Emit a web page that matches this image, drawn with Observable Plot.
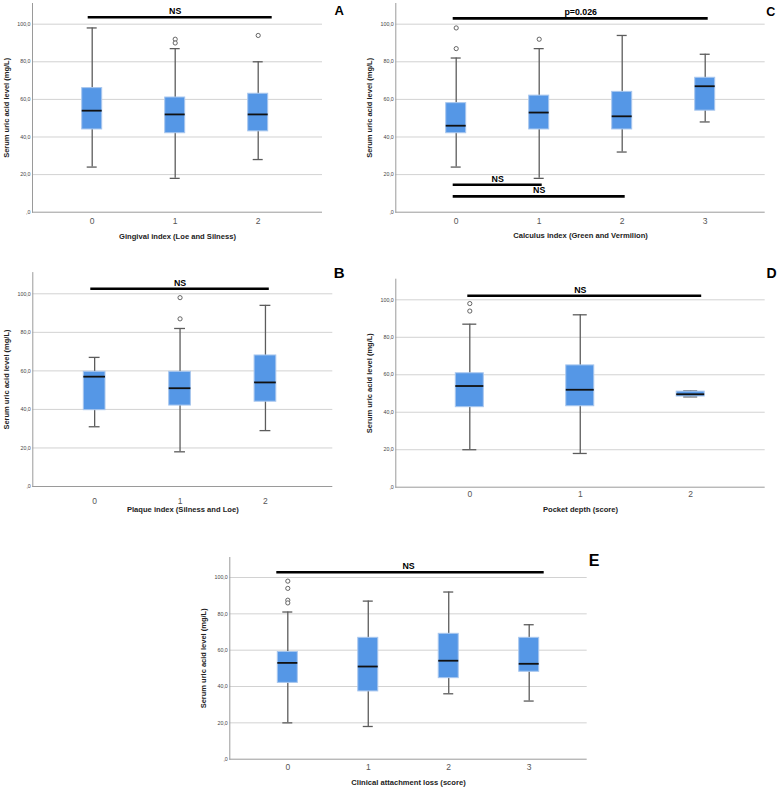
<!DOCTYPE html>
<html><head><meta charset="utf-8">
<script src="https://cdn.jsdelivr.net/npm/d3@7"></script>
<script src="https://cdn.jsdelivr.net/npm/@observablehq/plot@0.6"></script>
<style>
html,body{margin:0;padding:0;background:#fff;}
#root{position:relative;width:777px;height:787px;overflow:hidden;font-family:"Liberation Sans",Arial,sans-serif;}
.panel{position:absolute;}
.panel svg{background:none;}
</style></head><body><div id="root"></div>
<script>
// ---------- shared axis data ----------
const yTicks = [0, 20, 40, 60, 80, 100];
const yTickLabels = [",0", "20,0", "40,0", "60,0", "80,0", "100,0"];
const yGridTicks = [20, 40, 60, 80, 100];
const yTitle = "Serum uric acid level (mg/L)";

// ---------- Panel A ----------
const aTitle = "Gingival index (Loe and Silness)";
const aGroups = ["0", "1", "2"];
const aLow = [24, 18, 28];
const aQ1 = [44, 42, 43];
const aMedian = [54, 52, 52];
const aQ3 = [66, 61, 63];
const aHigh = [98, 87, 80];
const aOutGroup = ["1", "1", "2"];
const aOutValue = [92, 90, 94];
const aSigFrom = ["0"];
const aSigTo = ["2"];
const aSigY = [103.7];
const aSigLabel = ["NS"];

// ---------- Panel B ----------
const bTitle = "Plaque index (Silness and Loe)";
const bGroups = ["0", "1", "2"];
const bLow = [31, 18, 29];
const bQ1 = [39.6, 42, 44];
const bMedian = [57, 51, 54];
const bQ3 = [59.5, 59.5, 68];
const bHigh = [67, 82, 94];
const bOutGroup = ["1", "1"];
const bOutValue = [98, 87];
const bSigFrom = ["0"];
const bSigTo = ["2"];
const bSigY = [102.6];
const bSigLabel = ["NS"];

// ---------- Panel C ----------
const cTitle = "Calculus index (Green and Vermilion)";
const cGroups = ["0", "1", "2", "3"];
const cLow = [24, 18, 32, 48];
const cQ1 = [42, 44, 44, 54];
const cMedian = [46, 53, 51, 67];
const cQ3 = [58, 62, 64, 71.5];
const cHigh = [82, 87, 94, 84];
const cOutGroup = ["0", "0", "1"];
const cOutValue = [98, 87, 92];
const cSigFrom = ["0", "0", "0"];
const cSigTo = ["3", "1", "2"];
const cSigY = [103.1, 14.6, 8.4];
const cSigLabel = ["p=0.026", "NS", "NS"];

// ---------- Panel D ----------
const dTitle = "Pocket depth (score)";
const dGroups = ["0", "1", "2"];
const dLow = [20, 18, 48.2];
const dQ1 = [42.7, 43.2, 48.4];
const dMedian = [54, 52, 49.6];
const dQ3 = [60.8, 65, 51];
const dHigh = [87, 92, 51.4];
const dOutGroup = ["0", "0"];
const dOutValue = [98, 94];
const dSigFrom = ["0"];
const dSigTo = ["2"];
const dSigY = [102.2];
const dSigLabel = ["NS"];

// ---------- Panel E ----------
const eTitle = "Clinical attachment loss (score)";
const eGroups = ["0", "1", "2", "3"];
const eLow = [20, 18, 36, 32];
const eQ1 = [42, 37.3, 44.6, 48.1];
const eMedian = [53, 51, 54.2, 52.5];
const eQ3 = [59, 66.8, 69, 66.8];
const eHigh = [81, 87, 92, 74];
const eOutGroup = ["0", "0", "0", "0"];
const eOutValue = [98, 94, 87.5, 86];
const eSigFrom = ["0"];
const eSigTo = ["3"];
const eSigY = [102.9];
const eSigLabel = ["NS"];

// ---------- layout / style (not data) ----------
const FONT = "'Liberation Sans', Arial, sans-serif";
const panels = [
  {letter: "A", title: aTitle, groups: aGroups, low: aLow, q1: aQ1, med: aMedian, q3: aQ3, high: aHigh,
   outG: aOutGroup, outV: aOutValue, sigFrom: aSigFrom, sigTo: aSigTo, sigY: aSigY, sigLabel: aSigLabel,
   left: 0, top: 0, width: 360, height: 250, mt: 3, mb: 38.3, ml: 32, mr: 38,
   xr: [81.7, 267.7], bw: 20, tickPad: 5.3, titleDy: 24, lDx: 12, lDy: 2, lSize: 13, inset: [6, -4]},
  {letter: "C", title: cTitle, groups: cGroups, low: cLow, q1: cQ1, med: cMedian, q3: cQ3, high: cHigh,
   outG: cOutGroup, outV: cOutValue, sigFrom: cSigFrom, sigTo: cSigTo, sigY: cSigY, sigLabel: cSigLabel,
   left: 360, top: 0, width: 417, height: 250, mt: 3, mb: 38.3, ml: 35.3, mr: 12.3,
   xr: [85.7, 354.7], bw: 20, tickPad: 5.3, titleDy: 23.3, lDx: 1, lDy: 3.5, lSize: 12.5, inset: [7, 7]},
  {letter: "B", title: bTitle, groups: bGroups, low: bLow, q1: bQ1, med: bMedian, q3: bQ3, high: bHigh,
   outG: bOutGroup, outV: bOutValue, sigFrom: bSigFrom, sigTo: bSigTo, sigY: bSigY, sigLabel: bSigLabel,
   left: 0, top: 250, width: 360, height: 265, mt: 22.1, mb: 29, ml: 32.3, mr: 27.7,
   xr: [83.3, 275.8], bw: 21.7, tickPad: 11, titleDy: 23.3, lDx: 1, lDy: -5.4, lSize: 15, inset: [7, 7]},
  {letter: "D", title: dTitle, groups: dGroups, low: dLow, q1: dQ1, med: dMedian, q3: dQ3, high: dHigh,
   outG: dOutGroup, outV: dOutValue, sigFrom: dSigFrom, sigTo: dSigTo, sigY: dSigY, sigLabel: dSigLabel,
   left: 360, top: 250, width: 417, height: 265, mt: 28.7, mb: 28.3, ml: 35.3, mr: 12.3,
   xr: [95.3, 344.2], bw: 28, tickPad: 3.6, titleDy: 22.6, lDx: 1.3, lDy: -10.7, lSize: 14, inset: [12, 3]},
  {letter: "E", title: eTitle, groups: eGroups, low: eLow, q1: eQ1, med: eMedian, q3: eQ3, high: eHigh,
   outG: eOutGroup, outV: eOutValue, sigFrom: eSigFrom, sigTo: eSigTo, sigY: eSigY, sigLabel: eSigLabel,
   left: 170, top: 515, width: 440, height: 272, mt: 42, mb: 28.3, ml: 59.3, mr: 23.3,
   xr: [107.3, 368.7], bw: 20, tickPad: 5, titleDy: 23, lDx: 1.6, lDy: -3, lSize: 16, inset: [-1, -5]}
];

const root = document.getElementById("root");

for (const p of panels) {
  const n = p.groups.length;
  const step = (p.xr[1] - p.xr[0] - p.bw) / (n - 1);
  const xOpts = {type: "band", domain: p.groups, range: p.xr, paddingInner: 1 - p.bw / step, paddingOuter: 0, round: false};
  const xs = Plot.scale({x: xOpts});

  const sigTexts = p.sigLabel.map((lab, i) =>
    Plot.text([lab], {
      x: [p.sigFrom[i]], y: [p.sigY[i]], text: d => d,
      dx: (xs.apply(p.sigTo[i]) - xs.apply(p.sigFrom[i])) / 2, dy: -6,
      textAnchor: "middle", lineAnchor: "middle",
      fontSize: 8.8, fontWeight: "bold", fill: "#000"
    })
  );

  const chart = Plot.plot({
    width: p.width, height: p.height,
    marginTop: p.mt, marginBottom: p.mb, marginLeft: p.ml, marginRight: p.mr,
    x: xOpts,
    y: {domain: [0, 111]},
    style: {fontFamily: FONT, background: "transparent", overflow: "visible"},
    marks: [
      Plot.gridY({ticks: yGridTicks, stroke: "#d2d2d2", strokeOpacity: 1, strokeWidth: 1}),
      Plot.axisY({ticks: yTicks, tickFormat: d => yTickLabels[yTicks.indexOf(d)], tickSize: 0, tickPadding: 2,
                  fontSize: 5.3, fill: "#444", label: null}),
      Plot.axisX({tickSize: 0, tickPadding: p.tickPad, fontSize: 8.5, fill: "#555", label: null}),
      Plot.ruleY([0], {stroke: "#9a9a9a", strokeWidth: 1}),
      Plot.frame({anchor: "left", stroke: "#9a9a9a", strokeWidth: 1}),
      // whiskers
      Plot.ruleX(p.groups, {x: p.groups, y1: p.low, y2: p.high, stroke: "#5c5c5c", strokeWidth: 1.3}),
      Plot.tickY(p.groups, {x: p.groups, y: p.low, inset: p.bw / 4, stroke: "#5c5c5c", strokeWidth: 1.3}),
      Plot.tickY(p.groups, {x: p.groups, y: p.high, inset: p.bw / 4, stroke: "#5c5c5c", strokeWidth: 1.3}),
      // boxes
      Plot.barY(p.groups, {x: p.groups, y1: p.q1, y2: p.q3, fill: "#5597e6", stroke: "#a9c7ee", strokeWidth: 1}),
      Plot.tickY(p.groups, {x: p.groups, y: p.med, stroke: "#111", strokeWidth: 1.8}),
      // outliers
      Plot.dot(p.outV, {x: p.outG, y: p.outV, r: 2.1, fill: "#fff", stroke: "#555", strokeWidth: 0.9}),
      // significance bars
      Plot.ruleY(p.sigY, {y: p.sigY, x1: p.sigFrom, x2: p.sigTo, stroke: "#000", strokeWidth: 2.6,
                          insetLeft: p.inset[0], insetRight: p.inset[1]}),
      ...sigTexts,
      // titles
      Plot.text([yTitle], {text: d => d, frameAnchor: "left", rotate: -90, textAnchor: "middle", lineAnchor: "middle",
                           dx: -26, fontSize: 7.5, fontWeight: "bold", fill: "#222"}),
      Plot.text([p.title], {text: d => d, frameAnchor: "bottom", textAnchor: "middle", lineAnchor: "middle",
                            dy: p.titleDy, fontSize: 7.6, fontWeight: "bold", fill: "#222"}),
      Plot.text([p.letter], {text: d => d, frameAnchor: "top-right", textAnchor: "start", lineAnchor: "top",
                             dx: p.lDx, dy: p.lDy, fontSize: p.lSize, fontWeight: "bold", fill: "#000"})
    ]
  });
  const div = document.createElement("div");
  div.className = "panel";
  div.style.left = p.left + "px";
  div.style.top = p.top + "px";
  div.appendChild(chart);
  root.appendChild(div);
}
</script>
</body></html>
